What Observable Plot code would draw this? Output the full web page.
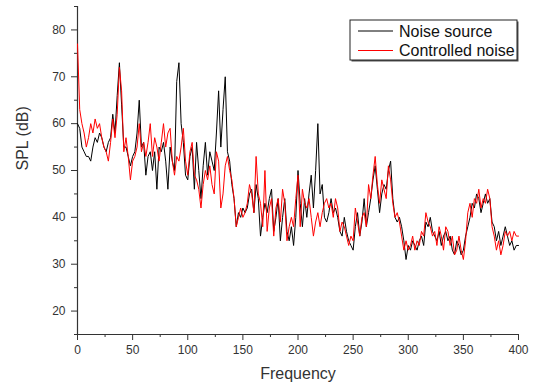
<!DOCTYPE html>
<html>
<head>
<meta charset="utf-8">
<script src="https://cdn.jsdelivr.net/npm/d3@7"></script>
<script src="https://cdn.jsdelivr.net/npm/@observablehq/plot@0.6"></script>
<style>
  html, body { margin: 0; padding: 0; background: #fff; }
  #chart svg { display: block; }
</style>
</head>
<body>
<div id="chart"></div>
<script>
// Frequency grid (Hz), 2 Hz step
const frequency = d3.range(0, 401, 2);

// Noise source (black), SPL in dB
const noiseSource = [
  60,59,55,54,53,53,52,55,57,56, 58,57,55,54,56,57,62,58,66,73,
  64,55,55,53,51,53,54,58,65,55, 56,49,53,54,50,54,46,55,54,56,
  52,46,55,52,50,69,73,60,56,49, 48,53,55,46,56,50,44,51,56,49,
  54,52,50,58,67,55,63,70,54,52, 47,44,38,41,40,42,41,42,45,46,
  41,47,44,36,40,43,41,44,46,37, 40,44,35,40,44,37,35,38,34,40,
  50,43,38,44,40,45,49,42,50,60, 45,47,40,39,41,44,41,42,40,37,
  36,40,37,35,34,33,38,41,36,39, 44,38,41,44,48,51,46,41,45,47,
  46,50,52,44,40,39,40,38,35,31, 34,33,35,34,33,35,36,34,39,38,
  40,37,36,35,37,34,36,37,35,36, 33,32,35,34,32,33,36,38,40,43,
  42,45,44,41,43,45,43,44,39,38, 35,37,34,36,38,36,34,35,33,34,
  34
];

// Controlled noise (red), SPL in dB
const controlledNoise = [
  77,63,60,58,55,57,60,58,61,59, 60,57,55,54,52,56,61,57,62,72,
  67,54,57,53,48,52,53,55,60,54, 56,53,56,60,53,57,55,52,56,60,
  55,58,59,52,49,53,52,55,59,52, 49,54,56,49,48,46,42,47,50,48,
  51,47,45,54,52,42,45,51,53,50, 48,44,38,40,42,40,41,43,47,45,
  41,53,45,43,38,50,37,42,44,36, 42,44,39,46,43,35,38,40,38,44,
  49,38,46,43,42,44,40,36,39,41, 38,41,43,44,42,43,40,44,42,37,
  39,38,36,34,36,35,42,39,36,40, 41,38,47,44,49,53,47,43,48,46,
  44,51,48,43,40,41,39,36,33,35, 33,34,36,33,35,34,37,36,41,39,
  38,36,37,34,38,36,33,38,37,34, 36,32,33,36,33,31,35,41,43,40,
  44,43,46,42,44,43,46,44,38,36, 33,35,32,34,37,36,37,35,37,36,
  36
];

const xMajor = d3.range(0, 401, 50);
const xMinor = d3.range(25, 400, 50);
const yMajor = d3.range(20, 81, 10);
const yMinor = d3.range(15, 86, 10);

const seriesNames = ["Noise source", "Controlled noise"];
const seriesColors = ["#000000", "#ff0000"];

const rows = [];
frequency.forEach((f, i) => {
  rows.push({f, spl: noiseSource[i], s: seriesNames[0]});
});
frequency.forEach((f, i) => {
  rows.push({f, spl: controlledNoise[i], s: seriesNames[1]});
});

const axisColor = "#333";
const font = "'Liberation Sans', Arial, sans-serif";

const chart = Plot.plot({
  width: 541,
  height: 386,
  marginLeft: 77,
  marginRight: 23,
  marginTop: 6,
  marginBottom: 52,
  style: {fontFamily: font, fontSize: "12px", color: axisColor, background: "#fff"},
  x: {domain: [0, 400]},
  y: {domain: [15, 85]},
  color: {domain: seriesNames, range: seriesColors},
  marks: [
    Plot.axisX(xMinor, {tickSize: 3, tickFormat: () => "", label: null, stroke: axisColor}),
    Plot.axisX(xMajor, {tickSize: 6, tickPadding: 5, label: null, fontSize: 12, fill: axisColor, stroke: axisColor}),
    Plot.axisY(yMinor, {tickSize: 3, tickFormat: () => "", label: null, stroke: axisColor}),
    Plot.axisY(yMajor, {tickSize: 6, tickPadding: 6, label: null, fontSize: 12, fill: axisColor, stroke: axisColor}),
    Plot.ruleX([0], {stroke: axisColor, strokeWidth: 1.2}),
    Plot.ruleY([15], {stroke: axisColor, strokeWidth: 1.2}),
    Plot.lineY(rows, {x: "f", y: "spl", z: "s", stroke: "s", strokeWidth: 1}),
    Plot.text(["Frequency"], {frameAnchor: "bottom", dy: 44, fontSize: 16, fill: "#333"}),
    Plot.text(["SPL (dB)"], {frameAnchor: "left", dx: -55, rotate: -90, fontSize: 16, fill: "#333"})
  ]
});

document.getElementById("chart").appendChild(chart);

// Legend box in the top-right corner of the plot area
const svg = d3.select(chart);
const lx = 350, ly = 20, lw = 167, lh = 40;
const g = svg.append("g").attr("font-family", font).attr("font-size", 16).attr("text-anchor", "start");
g.append("rect").attr("x", lx + 1.5).attr("y", ly + 1.5).attr("width", lw).attr("height", lh)
  .attr("fill", "#555");
g.append("rect").attr("x", lx).attr("y", ly).attr("width", lw).attr("height", lh)
  .attr("fill", "#fff").attr("stroke", "#222").attr("stroke-width", 1);
seriesNames.forEach((name, i) => {
  const yy = ly + 11 + i * 19.5;
  g.append("line").attr("x1", lx + 8).attr("x2", lx + 43).attr("y1", yy).attr("y2", yy)
    .attr("stroke", seriesColors[i]).attr("stroke-width", 1);
  g.append("text").attr("x", lx + 49).attr("y", yy + 5.5).attr("fill", "#111").text(name);
});
</script>
</body>
</html>
